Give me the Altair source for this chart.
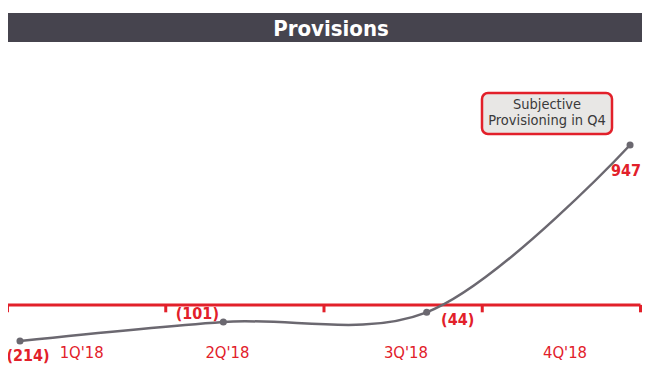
import altair as alt
import pandas as pd

# ---- data ----
quarters = ["1Q'18", "2Q'18", "3Q'18", "4Q'18"]
provisions = [-214, -101, -44, 947]
value_labels = ["(214)", "(101)", "(44)", "947"]
point_index = [0, 1, 2, 3]
quarter_label_pos = [0.469, 1.39, 2.518, 3.523]
tick_pos = [0, 1, 2, 3, 4]
title_text = ["Provisions"]
note_lines = ["Subjective", "Provisioning in Q4"]

# ---- style ----
RED = "#e2202a"
GRAY = "#6b6870"
BAR = "#46444e"
FONT = "DejaVu Sans Condensed, Roboto, sans-serif"
W, H = 634, 358
X_DOM = [0.0032, 4.0095]
Y_DOM = [-362, 1758.5]
PT_START, PT_STEP = 0.079, 1.285
TICK_LEN = 44
label_offsets = [(8, 15), (-26, -8), (31, 8), (-4, 26)]


def ux(px):  # pixel -> x units (for decoration placement)
    return X_DOM[0] + px / W * (X_DOM[1] - X_DOM[0])


def uy(py):  # pixel -> y units
    return Y_DOM[1] - py / H * (Y_DOM[1] - Y_DOM[0])


df = pd.DataFrame({"idx": point_index, "value": provisions, "label": value_labels})
df["xpos"] = [PT_START + i * PT_STEP for i in point_index]
df_ticks = pd.DataFrame({"pos": tick_pos, "top": [0] * 5, "bot": [-TICK_LEN] * 5})
df_axis = pd.DataFrame({"start": [tick_pos[0]], "end": [tick_pos[-1]], "zero": [0]})
df_q = pd.DataFrame({"pos": quarter_label_pos, "quarter": quarters, "zero": [0] * 4})

xs = alt.Scale(domain=X_DOM, nice=False, zero=False)
ys = alt.Scale(domain=Y_DOM, nice=False, zero=False)

X = alt.X("xpos:Q", scale=xs, axis=None)
Y = alt.Y("value:Q", scale=ys, axis=None)

# title bar
df_title = pd.DataFrame({"t": title_text, "x0": [ux(-1)], "x1": [ux(W)],
                         "y0": [uy(5)], "y1": [uy(34)]})
title_bg = alt.Chart(df_title).mark_rect(color=BAR).encode(
    x=alt.X("x0:Q", scale=xs, axis=None), x2="x1:Q",
    y=alt.Y("y0:Q", scale=ys, axis=None), y2="y1:Q")
title_txt = alt.Chart(df_title).mark_text(
    color="white", fontSize=22, fontWeight="bold", font=FONT, baseline="middle"
).encode(x=alt.value(323), y=alt.value(20.5), text="t:N")

# red axis
axis_line = alt.Chart(df_axis).mark_rule(color=RED, strokeWidth=3).encode(
    x=alt.X("start:Q", scale=xs, axis=None), x2="end:Q",
    y=alt.Y("zero:Q", scale=ys, axis=None))
axis_ticks = alt.Chart(df_ticks).mark_rule(color=RED, strokeWidth=3).encode(
    x=alt.X("pos:Q", scale=xs, axis=None),
    y=alt.Y("top:Q", scale=ys, axis=None), y2="bot:Q")
axis_labels = alt.Chart(df_q).mark_text(color=RED, fontSize=16.5, font=FONT, dy=48).encode(
    x=alt.X("pos:Q", scale=xs, axis=None),
    y=alt.Y("zero:Q", scale=ys, axis=None), text="quarter:N")

# data
line = alt.Chart(df).mark_line(interpolate="catmull-rom", color=GRAY, strokeWidth=2.5).encode(x=X, y=Y)
pts = alt.Chart(df).mark_point(filled=True, size=50, opacity=1, color=GRAY).encode(x=X, y=Y)
value_texts = [
    alt.Chart(df).transform_filter(f"datum.idx == {i}").mark_text(
        color=RED, fontSize=16, fontWeight="bold", font=FONT, dx=dx, dy=dy,
        baseline="middle").encode(x=X, y=Y, text="label:N")
    for i, (dx, dy) in enumerate(label_offsets)
]

# annotation box
df_note = pd.DataFrame({"x0": [ux(474)], "x1": [ux(604)], "y0": [uy(85)], "y1": [uy(126)]})
note_box = alt.Chart(df_note).mark_rect(
    fill="#e8e7e5", stroke=RED, strokeWidth=2.5, cornerRadius=6).encode(
    x=alt.X("x0:Q", scale=xs, axis=None), x2="x1:Q",
    y=alt.Y("y0:Q", scale=ys, axis=None), y2="y1:Q")
note_txt = [
    alt.Chart(pd.DataFrame({"t": [line_text]})).mark_text(
        color="#3a3a3a", fontSize=14.5, font=FONT, baseline="middle").encode(
        x=alt.value(539), y=alt.value(yy), text="t:N")
    for line_text, yy in zip(note_lines, [97, 112.7])
]

chart = alt.layer(
    title_bg, title_txt, axis_line, axis_ticks, axis_labels, line, pts,
    *value_texts, note_box, *note_txt
).properties(
    width=W, height=H, padding=0, autosize=alt.AutoSizeParams(type="none")
).configure_view(stroke=None)

chart.save("out.html", embed_options={"renderer": "svg", "actions": False})
